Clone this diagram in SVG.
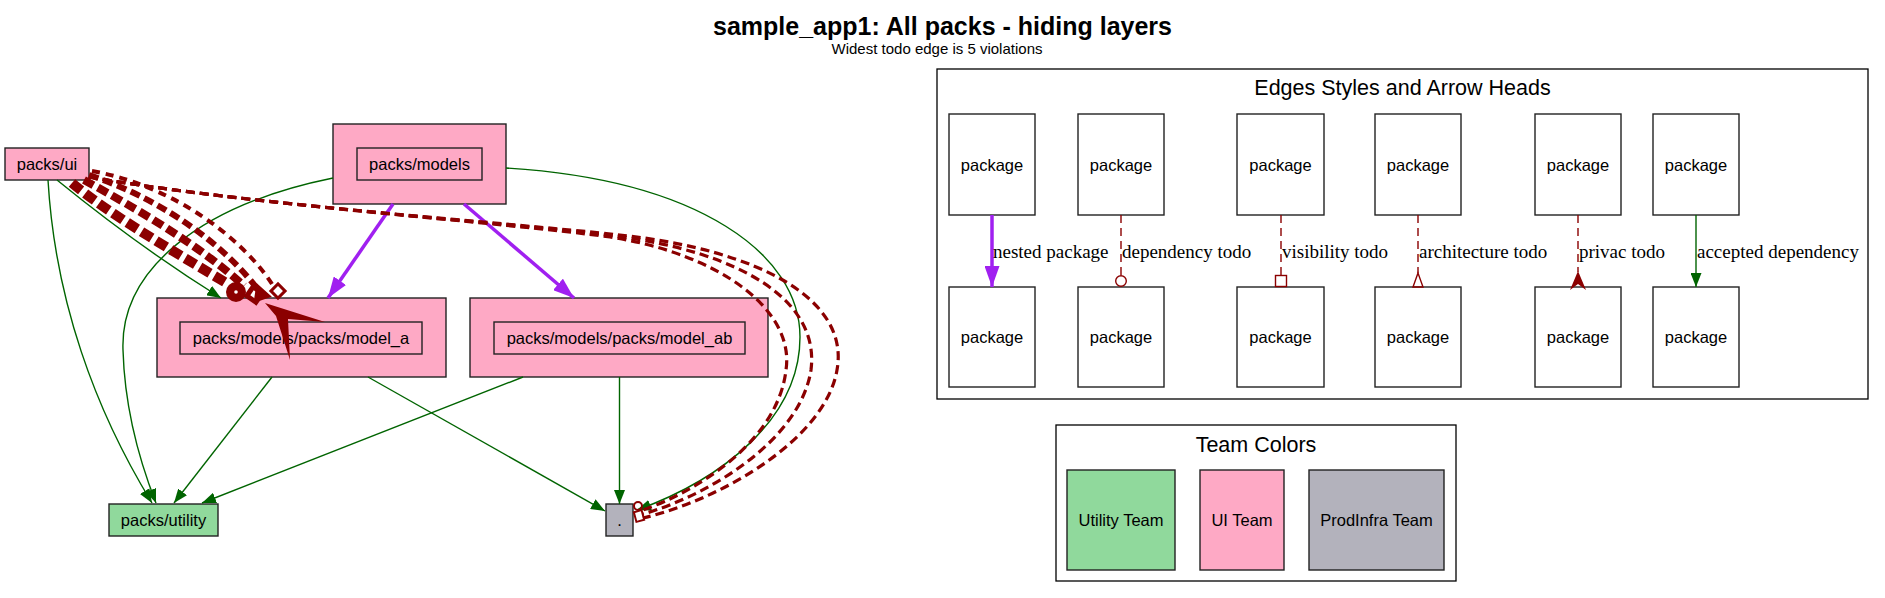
<svg xmlns="http://www.w3.org/2000/svg" width="1885" height="598" viewBox="0 0 1885 598">
<style>
text{font-family:"Liberation Sans",Arial,sans-serif;fill:#000}
.lbl{font-size:16.5px;text-anchor:middle}
.elbl{font-family:"Liberation Serif","Times New Roman",serif;font-size:19px}
.ctitle{font-size:21.5px;text-anchor:middle}
.nb{stroke:#222;stroke-width:1.4}
.pink{fill:#fea9c5}
.green{fill:#90d99c}
.gray{fill:#b3b2bc}
.white{fill:#fff}
.g{fill:none;stroke:#006400;stroke-width:1.4}
.p{fill:none;stroke:#a020f0;stroke-width:3.5}
.r{fill:none;stroke:#8b0000}
.rd{fill:none;stroke:#8b0000;stroke-width:1.4;stroke-dasharray:8 5}
</style>
<defs>
<marker id="ag" viewBox="0 0 14 11" refX="14" refY="5.5" markerWidth="14" markerHeight="11" orient="auto" markerUnits="userSpaceOnUse"><path d="M0,0 L14,5.5 L0,11 z" fill="#006400"/></marker>
<marker id="ap" viewBox="0 0 21 15" refX="21" refY="7.5" markerWidth="21" markerHeight="15" orient="auto" markerUnits="userSpaceOnUse"><path d="M0,0 L21,7.5 L0,15 z" fill="#a020f0"/></marker>
</defs>
<rect width="1885" height="598" fill="#fff"/>
<text x="942.5" y="35" font-size="25" font-weight="bold" text-anchor="middle" textLength="459" lengthAdjust="spacingAndGlyphs">sample_app1: All packs - hiding layers</text>
<text x="937" y="54" font-size="15" text-anchor="middle">Widest todo edge is 5 violations</text>

<g id="node-packs-ui"><rect class="nb pink" x="5" y="148" width="84" height="32"/><text class="lbl" x="47" y="170">packs/ui</text></g>
<g id="node-packs-models"><rect class="nb pink" x="333" y="124" width="173" height="80"/><rect class="nb pink" x="357" y="148" width="125" height="32"/><text class="lbl" x="419.5" y="170">packs/models</text></g>
<g id="node-model-a"><rect class="nb pink" x="157" y="298" width="289" height="79"/><rect class="nb pink" x="180" y="322" width="242" height="32"/><text class="lbl" x="301" y="344">packs/models/packs/model_a</text></g>
<g id="node-model-ab"><rect class="nb pink" x="470" y="298" width="298" height="79"/><rect class="nb pink" x="494" y="322" width="251" height="32"/><text class="lbl" x="619.5" y="344">packs/models/packs/model_ab</text></g>
<g id="node-packs-utility"><rect class="nb green" x="109" y="504" width="109" height="32"/><text class="lbl" x="163.5" y="526">packs/utility</text></g>
<g id="node-root"><rect class="nb gray" x="606" y="504" width="27" height="32"/><text class="lbl" x="619.5" y="526">.</text></g>

<g id="connectors">
<path class="g" d="M48,180 C55,300 95,410 152,503" marker-end="url(#ag)"/>
<path class="g" d="M333,178 C200,205 120,270 123,350 C125,420 145,475 156,503" marker-end="url(#ag)"/>
<path class="g" d="M272,377 L174,503" marker-end="url(#ag)"/>
<path class="g" d="M523,377 L202,503" marker-end="url(#ag)"/>
<path class="g" d="M57,180 C100,215 160,260 221,298" marker-end="url(#ag)"/>
<path class="g" d="M368,377 L605,511" marker-end="url(#ag)"/>
<path class="g" d="M619.5,377 L619.5,504" marker-end="url(#ag)"/>
<path class="g" d="M506,168 C700,180 800,255 800,337 C800,420 720,480 637,510" marker-end="url(#ag)"/>
<path class="p" d="M393,204 L328,298" marker-end="url(#ap)"/>
<path class="p" d="M464,204 L574,298" marker-end="url(#ap)"/>
<!-- todo edges ui -> root -->
<path class="r" stroke-width="3.2" stroke-dasharray="9 5" d="M89,177 C250,205 500,222 620,235 C760,250 850,300 837,370 C825,440 720,500 643,518"/>
<path class="r" stroke-width="3.2" stroke-dasharray="9 5" d="M89,177 C250,205 500,222 615,236 C740,252 820,300 811,370 C800,440 710,495 643,514"/>
<path class="r" stroke-width="3.2" stroke-dasharray="9 5" d="M89,177 C250,205 500,222 610,237 C720,254 795,310 786,370 C778,440 700,490 643,510"/>
<circle cx="638" cy="506" r="4" fill="none" stroke="#8b0000" stroke-width="2"/>
<rect x="635" y="511" width="8" height="10" fill="none" stroke="#8b0000" stroke-width="2" transform="rotate(-15 639 516)"/>
<!-- todo edges ui -> model_a -->
<path class="r" stroke-width="10" stroke-dasharray="12 5" d="M72,183 C110,215 180,255 228,284"/>
<path class="r" stroke-width="8" stroke-dasharray="11 5" d="M84,180 C130,205 200,245 244,286"/>
<path class="r" stroke-width="6" stroke-dasharray="10 5" d="M89,175 C150,195 215,235 256,287"/>
<path class="r" stroke-width="4" stroke-dasharray="8 6" d="M92,171 C170,185 240,235 272,284"/>
<circle cx="236" cy="292" r="10" fill="#8b0000"/>
<circle cx="236" cy="292" r="1.8" fill="#fff"/>
<rect x="249" y="289" width="11" height="11" fill="#fff" stroke="#8b0000" stroke-width="5" transform="rotate(35 254.5 294.5)"/>
<path d="M258,287 L268,296 L256,300 z" fill="#8b0000" stroke="#8b0000" stroke-width="4"/>
<rect x="273" y="286" width="10" height="10" fill="#fff" stroke="#8b0000" stroke-width="3" transform="rotate(45 278 291)"/>
<path d="M265,303 L325,322 L288,319 L290,360 L276,316 Z" fill="#8b0000"/>
</g>

<g id="legend-edges">
<rect x="937" y="69" width="931" height="330" fill="none" stroke="#000" stroke-width="1.3"/>
<text class="ctitle" x="1402.5" y="95">Edges Styles and Arrow Heads</text>
<g id="leg-n1"><rect class="nb white" x="949" y="114" width="86" height="101"/><text class="lbl" x="992" y="171">package</text></g>
<g id="leg-n2"><rect class="nb white" x="949" y="287" width="86" height="100"/><text class="lbl" x="992" y="343">package</text></g>
<g id="leg-n3"><rect class="nb white" x="1078" y="114" width="86" height="101"/><text class="lbl" x="1121" y="171">package</text></g>
<g id="leg-n4"><rect class="nb white" x="1078" y="287" width="86" height="100"/><text class="lbl" x="1121" y="343">package</text></g>
<g id="leg-n5"><rect class="nb white" x="1237" y="114" width="87" height="101"/><text class="lbl" x="1280.5" y="171">package</text></g>
<g id="leg-n6"><rect class="nb white" x="1237" y="287" width="87" height="100"/><text class="lbl" x="1280.5" y="343">package</text></g>
<g id="leg-n7"><rect class="nb white" x="1375" y="114" width="86" height="101"/><text class="lbl" x="1418" y="171">package</text></g>
<g id="leg-n8"><rect class="nb white" x="1375" y="287" width="86" height="100"/><text class="lbl" x="1418" y="343">package</text></g>
<g id="leg-n9"><rect class="nb white" x="1535" y="114" width="86" height="101"/><text class="lbl" x="1578" y="171">package</text></g>
<g id="leg-n10"><rect class="nb white" x="1535" y="287" width="86" height="100"/><text class="lbl" x="1578" y="343">package</text></g>
<g id="leg-n11"><rect class="nb white" x="1653" y="114" width="86" height="101"/><text class="lbl" x="1696" y="171">package</text></g>
<g id="leg-n12"><rect class="nb white" x="1653" y="287" width="86" height="100"/><text class="lbl" x="1696" y="343">package</text></g>
<g id="leg-connectors">
<path class="p" d="M992,215 L992,287" marker-end="url(#ap)"/>
<text class="elbl" x="993" y="258">nested package</text>
<path class="rd" d="M1121,215 L1121,275"/>
<circle cx="1121" cy="281" r="5.3" fill="none" stroke="#8b0000" stroke-width="1.4"/>
<text class="elbl" x="1122" y="258">dependency todo</text>
<path class="rd" d="M1281,215 L1281,275"/>
<rect x="1275.5" y="275.5" width="11" height="11" fill="none" stroke="#8b0000" stroke-width="1.4"/>
<text class="elbl" x="1282" y="258">visibility todo</text>
<path class="rd" d="M1418,215 L1418,273"/>
<path d="M1418,273 L1413,287 L1423,287 Z" fill="none" stroke="#8b0000" stroke-width="1.4"/>
<text class="elbl" x="1419" y="258">architecture todo</text>
<path class="rd" d="M1578,215 L1578,272"/>
<path d="M1578,271 L1586,290 L1578,284 L1570,290 Z" fill="#8b0000"/>
<text class="elbl" x="1579" y="258">privac todo</text>
<path class="g" stroke-width="2" d="M1696,215 L1696,287" marker-end="url(#ag)"/>
<text class="elbl" x="1697" y="258">accepted dependency</text>
</g>
</g>

<g id="legend-teams">
<rect x="1056" y="425" width="400" height="156" fill="none" stroke="#000" stroke-width="1.3"/>
<text class="ctitle" x="1256" y="451.5">Team Colors</text>
<g id="team-utility"><rect class="nb green" x="1067" y="470" width="108" height="100"/><text class="lbl" x="1121" y="526">Utility Team</text></g>
<g id="team-ui"><rect class="nb pink" x="1200" y="470" width="84" height="100"/><text class="lbl" x="1242" y="526">UI Team</text></g>
<g id="team-prodinfra"><rect class="nb gray" x="1309" y="470" width="135" height="100"/><text class="lbl" x="1376.5" y="526">ProdInfra Team</text></g>
</g>
</svg>
